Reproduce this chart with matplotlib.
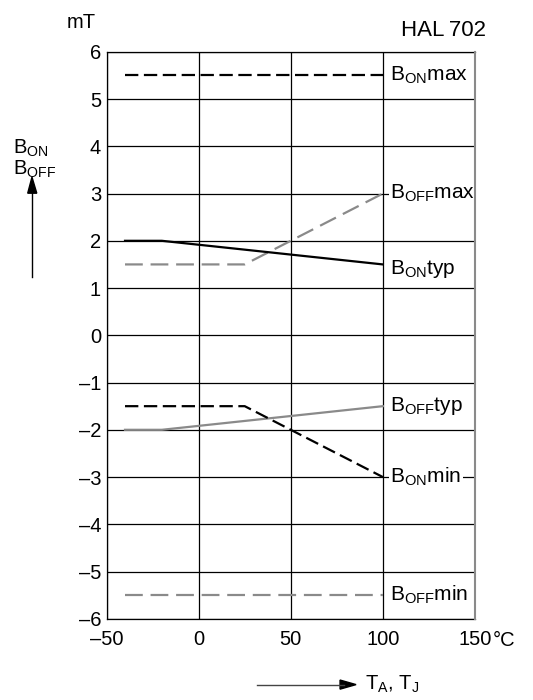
import numpy as np
import matplotlib.pyplot as plt

plt.rcParams['font.family'] = ['Liberation Sans', 'DejaVu Sans']
plt.rcParams['mathtext.fontset'] = 'custom'
plt.rcParams['mathtext.rm'] = 'Liberation Sans'

# curves (temperature in °C, field in mT)
t_on_max = [-40, 100]
b_on_max = [5.5, 5.5]
t_off_max = [-40, 25, 100]
b_off_max = [1.5, 1.5, 3.0]
t_on_typ = [-40, -20, 100]
b_on_typ = [2.0, 2.0, 1.5]
t_off_typ = [-40, -20, 100]
b_off_typ = [-2.0, -2.0, -1.5]
t_on_min = [-40, 25, 100]
b_on_min = [-1.5, -1.5, -3.0]
t_off_min = [-40, 100]
b_off_min = [-5.5, -5.5]

xticks = [-50, 0, 50, 100, 150]
yticks = list(range(-6, 7))

gray = '#8a8a8a'
fs = 14.5

fig = plt.figure(figsize=(5.33, 7.0), dpi=100)
ax = fig.add_axes([0.200, 0.116, 0.691, 0.810])

ax.plot(t_on_max, b_on_max, color='black', lw=1.6, dashes=(6, 2.5))
ax.plot(t_off_max, b_off_max, color=gray, lw=1.6, dashes=(8, 3.5))
ax.plot(t_on_typ, b_on_typ, color='black', lw=1.6)
ax.plot(t_off_typ, b_off_typ, color=gray, lw=1.6)
ax.plot(t_on_min, b_on_min, color='black', lw=1.6, dashes=(6, 2.5))
ax.plot(t_off_min, b_off_min, color=gray, lw=1.6, dashes=(8, 3.5))

ax.set_xlim(-50, 150)
ax.set_ylim(-6, 6)
ax.set_xticks(xticks)
ax.set_yticks(yticks)
ax.set_xticklabels([str(v).replace('-', '\u2013') for v in xticks], fontsize=fs)
ax.set_yticklabels([str(v).replace('-', '\u2013') for v in yticks], fontsize=fs)
ax.tick_params(length=0, pad=4)
ax.tick_params(axis='x', pad=8)
ax.grid(True, color='black', lw=0.9)
ax.set_axisbelow(True)
for s in ['left', 'bottom', 'top']:
    ax.spines[s].set_linewidth(0.9)
ax.spines['right'].set_color(gray)
ax.spines['right'].set_linewidth(1.5)
ax.spines['right'].set_zorder(6)

box = dict(facecolor='white', edgecolor='none', pad=1)
labels = [
    (5.5, r'B$_{\mathrm{ON}}$max'),
    (3.0, r'B$_{\mathrm{OFF}}$max'),
    (1.4, r'B$_{\mathrm{ON}}$typ'),
    (-1.5, r'B$_{\mathrm{OFF}}$typ'),
    (-3.0, r'B$_{\mathrm{ON}}$min'),
    (-5.5, r'B$_{\mathrm{OFF}}$min'),
]
for y, s in labels:
    ax.text(104, y, s, fontsize=15, va='center', ha='left', bbox=box, zorder=5)

fig.text(0.153, 0.968, 'mT', fontsize=fs, ha='center', va='center')
fig.text(0.912, 0.957, 'HAL\u2009702', fontsize=16, ha='right', va='center')
fig.text(0.945, 0.085, '°C', fontsize=fs, ha='center', va='center')
fig.text(0.024, 0.773, 'B$_{\\mathrm{ON}}$\nB$_{\\mathrm{OFF}}$', fontsize=fs,
         ha='left', va='center', linespacing=0.95)
fig.add_artist(plt.Line2D([0.060, 0.060], [0.604, 0.725], color='black', lw=1.0))
fig.patches.append(plt.Polygon([[0.052, 0.724], [0.069, 0.724], [0.060, 0.747]],
                               closed=True, color='black', transform=fig.transFigure))
fig.add_artist(plt.Line2D([0.483, 0.645], [0.022, 0.022], color='#444444', lw=1.0))
fig.patches.append(plt.Polygon([[0.638, 0.0155], [0.638, 0.0285], [0.668, 0.022]],
                               closed=True, color='black', transform=fig.transFigure))
fig.text(0.685, 0.022, 'T$_{\\mathrm{A}}$, T$_{\\mathrm{J}}$', fontsize=fs,
         ha='left', va='center')

fig.savefig('out.png', dpi=100)
